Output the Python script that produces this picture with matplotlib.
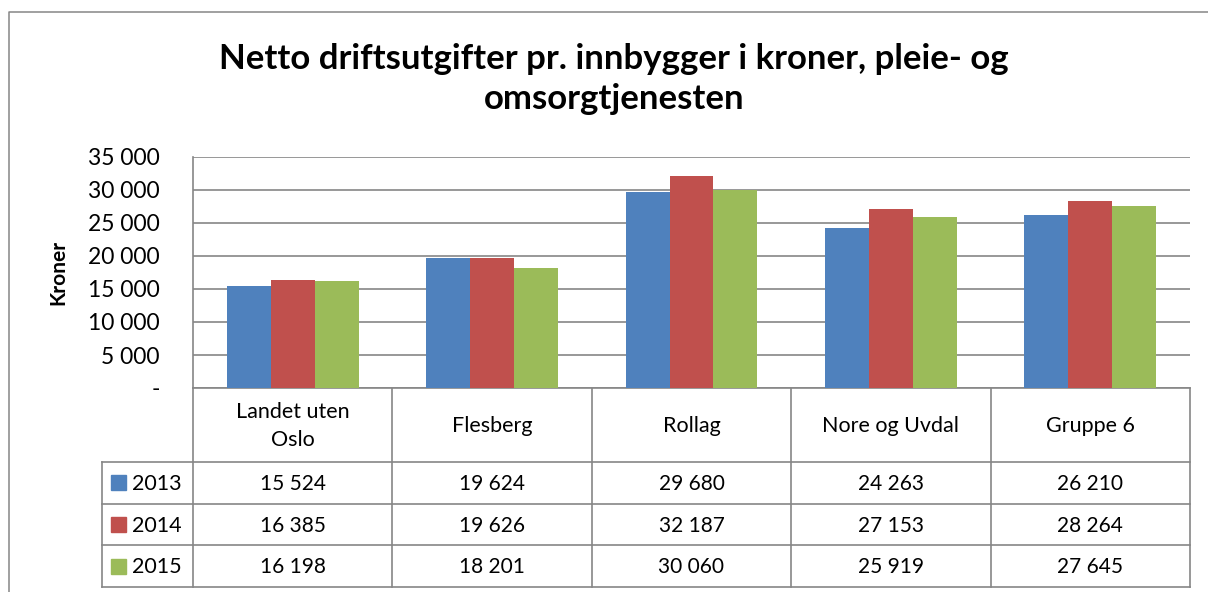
import numpy as np
import matplotlib
matplotlib.use("Agg")
import matplotlib.pyplot as plt
from matplotlib.patches import Rectangle

plt.rcParams["font.family"] = ["Lato", "DejaVu Sans"]

# data
categories = ["Landet uten\nOslo", "Flesberg", "Rollag", "Nore og Uvdal", "Gruppe 6"]
years = ["2013", "2014", "2015"]
v2013 = [15524, 19624, 29680, 24263, 26210]
v2014 = [16385, 19626, 32187, 27153, 28264]
v2015 = [16198, 18201, 30060, 25919, 27645]
series = [v2013, v2014, v2015]
colors = ["#4F81BD", "#C0504D", "#9BBB59"]
yticks = [0, 5000, 10000, 15000, 20000, 25000, 30000, 35000]

W, H = 1208, 592
GRID = "#868686"


def fmt(v):
    return "-" if v == 0 else f"{v:,}".replace(",", " ")


fig = plt.figure(figsize=(W / 100, H / 100), dpi=100)

# overlay in pixel coordinates for chart frame + data table
ov = fig.add_axes([0, 0, 1, 1], zorder=0)
ov.set_xlim(0, W); ov.set_ylim(H, 0)
ov.axis("off")

# plot area (pixels)
pl, pr, pt, pb = 193, 1190, 157, 388
ax = fig.add_axes([pl / W, 1 - pb / H, (pr - pl) / W, (pb - pt) / H], zorder=2)

x = np.arange(len(categories))
bw = 0.22
for i, (vals, c) in enumerate(zip(series, colors)):
    ax.bar(x + (i - 1) * bw, vals, bw, color=c, zorder=3)

ax.set_xlim(-0.5, len(categories) - 0.5)
ax.set_ylim(0, 35000)
ax.set_yticks(yticks)
ax.set_yticklabels([fmt(t) for t in yticks], fontsize=16.5)
ax.set_xticks([])
ax.tick_params(axis="y", length=0, pad=24)
ax.yaxis.grid(True, color=GRID, linewidth=1.2, zorder=0)
for s in ["top", "right"]:
    ax.spines[s].set_visible(False)
for s in ["left", "bottom"]:
    ax.spines[s].set_color(GRID)
    ax.spines[s].set_linewidth(1.2)
ax.set_ylabel("Kroner", fontsize=15, fontweight="bold", labelpad=14)

# chart frame
ov.plot([9, 9, W], [H, 12, 12], color=GRID, lw=1.1)

# title
fig.text(614 / W, 1 - 79 / H,
         "Netto driftsutgifter pr. innbygger i kroner, pleie- og\nomsorgtjenesten",
         ha="center", va="center", fontsize=25, fontweight="bold",
         linespacing=1.33)

# data table
n = len(categories)
colw = (pr - pl) / n
tl = 102
hdr_bot = 462
row_h = 41.7
tb = hdr_bot + row_h * len(years)
lw = 1.2
for k in range(n + 1):
    xx = pl + k * colw
    ov.plot([xx, xx], [pb, tb], color=GRID, lw=lw)
ov.plot([tl, tl], [hdr_bot, tb], color=GRID, lw=lw)
for r in range(len(years) + 1):
    yy = hdr_bot + r * row_h
    ov.plot([tl, pr], [yy, yy], color=GRID, lw=lw)

for k, cat in enumerate(categories):
    cx = pl + (k + 0.5) * colw
    ov.text(cx, (pb + hdr_bot) / 2 + 1, cat, ha="center", va="center",
            fontsize=15.5, linespacing=1.45)
    for r, vals in enumerate(series):
        cy = hdr_bot + (r + 0.5) * row_h
        ov.text(cx, cy + 1, fmt(vals[k]), ha="center", va="center", fontsize=15)

for r, (yr, c) in enumerate(zip(years, colors)):
    cy = hdr_bot + (r + 0.5) * row_h
    ov.add_patch(Rectangle((111, cy - 7.5), 15, 15, color=c))
    ov.text(132, cy + 1, yr, ha="left", va="center", fontsize=15.5)

fig.savefig("out.png", dpi=100)
